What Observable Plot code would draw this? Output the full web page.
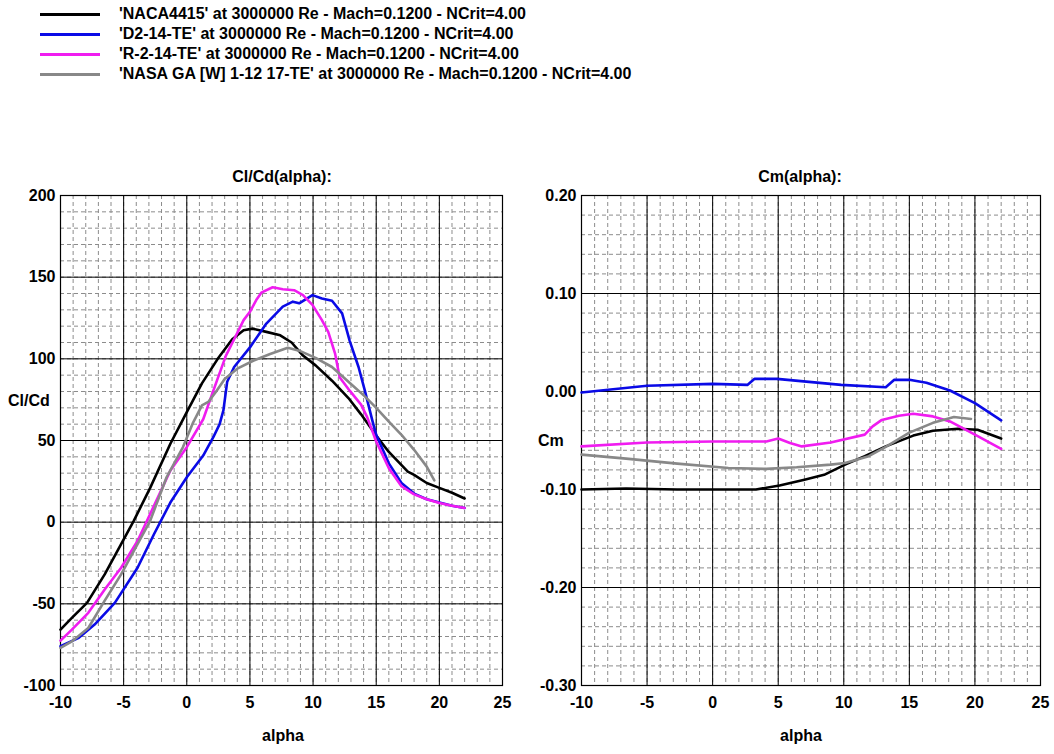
<!DOCTYPE html>
<html>
<head>
<meta charset="utf-8">
<script src="https://cdn.jsdelivr.net/npm/d3@7"></script>
<script src="https://cdn.jsdelivr.net/npm/@observablehq/plot@0.6"></script>
<style>
  html, body { margin: 0; padding: 0; background: white; }
  #root { position: relative; width: 1054px; height: 754px; font-family: "Liberation Sans", Arial, sans-serif; font-weight: bold; color: #000; overflow: hidden; }
  .abs { position: absolute; white-space: nowrap; }
  .lab { font-size: 16px; line-height: 18px; }
  .legline { position: absolute; left: 40px; width: 60px; height: 3px; }
  .legtxt { position: absolute; left: 119px; font-size: 16px; line-height: 18px; white-space: nowrap; }
  .plotbox { position: absolute; top: 150px; }
</style>
</head>
<body>
<div id="root"></div>
<script>
// ---------- series labels & colours ----------
const seriesNames = [
  "'NACA4415' at 3000000 Re - Mach=0.1200 - NCrit=4.00",
  "'D2-14-TE' at 3000000 Re - Mach=0.1200 - NCrit=4.00",
  "'R-2-14-TE' at 3000000 Re - Mach=0.1200 - NCrit=4.00",
  "'NASA GA [W] 1-12 17-TE' at 3000000 Re - Mach=0.1200 - NCrit=4.00"
];
const seriesColors = ["#000000", "#0a0ae6", "#f01cf0", "#888888"];

// ---------- Cl/Cd(alpha) ----------
const naca_ClCd_alpha = [-10,-9.1,-7.9,-6.5,-5.2,-4.2,-2.9,-1.3,0,1.2,2.45,3.6,4.5,5.2,6.3,7.4,8.3,9.2,10.2,11.5,12.8,13.8,15,16,17.5,18,19,20,21,22];
const naca_ClCd       = [-65.8,-58.6,-49.4,-32,-13.5,0.8,21,48,67.4,85,100,112,117.5,118.5,116.5,114.4,110,102,96,86.6,76,66,53,43,31,29,24,21,18,14.5];

const d2_ClCd_alpha = [-10,-8.6,-7.3,-5.7,-3.9,-2.6,-1.3,0,1.3,2.1,2.6,2.9,3.2,3.75,5,6.3,7.6,8.4,8.9,9.95,10.7,11.5,12.3,12.9,13.6,14.1,14.7,15,16,17,18,19,20,21,22];
const d2_ClCd       = [-76,-71,-62.7,-49.4,-27.9,-7.4,12,27.5,40.8,52,60,68.4,86,95,107,121.6,132,135,134,139,137,135.6,127.8,111,95,80.5,62,53.5,36,24,17.5,14,12,10,8.7];

const r2_ClCd_alpha = [-10,-9.1,-7.8,-6.5,-5.2,-3.9,-2.6,-1.3,0,1.3,2.4,3.1,3.75,4.5,5,5.5,5.9,6.8,7.6,8.5,9.2,9.95,10.7,11.2,11.75,12.1,12.9,13.8,14.3,15,16,17,18,19,20,21,22];
const r2_ClCd       = [-72.5,-65.8,-55.5,-41.2,-27.9,-11.5,10,31.6,45.9,63,87,102,112,123.7,128.8,136,140.5,143.8,142.6,142,139,133,123.7,116.5,103,88.7,80.5,72,64,49.4,33,22,17,14,11.8,10,8.7];

const ga_ClCd_alpha = [-10,-9.1,-7.8,-6.5,-5.2,-3.9,-2.9,-1.6,-0.3,0.5,1.2,1.7,2.3,3.0,4.0,5.3,6.6,8.0,8.9,10.2,11.5,13.0,14.1,15,16,17,18,19,19.6];
const ga_ClCd       = [-77,-73,-64.8,-48,-32,-13.5,0.8,27.5,46,61,71.5,73.6,79.7,87.6,94,99,103,106.8,105,100.6,95,84.6,77,70,61.6,53.5,44.3,34,25.6];

// ---------- Cm(alpha) ----------
const naca_Cm_alpha = [-10,-6.6,-2.7,3.3,5.1,7.0,8.5,10.1,11.6,13.2,15.3,16.8,18.7,20.2,22];
const naca_Cm       = [-0.100,-0.099,-0.100,-0.100,-0.096,-0.090,-0.085,-0.0746,-0.066,-0.056,-0.045,-0.040,-0.038,-0.039,-0.048];

const d2_Cm_alpha = [-10,-5,0,2.67,3.2,4.9,9.8,13.2,13.85,15,16.3,18.1,20,22];
const d2_Cm       = [-0.001,0.0058,0.0078,0.0068,0.0129,0.0129,0.0068,0.0044,0.0119,0.012,0.009,0.001,-0.0119,-0.0295];

const r2_Cm_alpha = [-10,-5,0,4.1,5,5.9,6.8,9.0,11.6,12.2,12.9,14.2,15.3,16.8,18.1,20,22];
const r2_Cm       = [-0.056,-0.052,-0.051,-0.051,-0.048,-0.0525,-0.056,-0.052,-0.044,-0.0356,-0.029,-0.0247,-0.0227,-0.0254,-0.0305,-0.044,-0.0586];

const ga_Cm_alpha = [-10,-6.6,-2.7,1.2,4.1,6.4,9.0,10.1,11.9,13.2,15,16.8,18.4,19.7];
const ga_Cm       = [-0.0644,-0.0685,-0.0736,-0.078,-0.079,-0.0773,-0.0746,-0.073,-0.066,-0.0566,-0.042,-0.032,-0.026,-0.028];

// ---------- axes ----------
const xMajor = [-10,-5,0,5,10,15,20,25];
const xMinor = d3.range(-10, 25.01, 1);
const clcdMajor = [-100,-50,0,50,100,150,200];
const clcdMinor = d3.range(-100, 200.01, 10);
const cmMajor = [-0.30,-0.20,-0.10,0.00,0.10,0.20];
const cmMinor = d3.range(-30, 20.01, 2).map(v => v / 100);

// ---------- build tables ----------
function table(alpha, vals, i) { return alpha.map((a, k) => ({alpha: a, v: vals[k], s: i})); }
const clcdSeries = [
  table(naca_ClCd_alpha, naca_ClCd, 0),
  table(d2_ClCd_alpha, d2_ClCd, 1),
  table(r2_ClCd_alpha, r2_ClCd, 2),
  table(ga_ClCd_alpha, ga_ClCd, 3)
];
const cmSeries = [
  table(naca_Cm_alpha, naca_Cm, 0),
  table(d2_Cm_alpha, d2_Cm, 1),
  table(r2_Cm_alpha, r2_Cm, 2),
  table(ga_Cm_alpha, ga_Cm, 3)
];

const root = document.getElementById("root");

// legend
seriesNames.forEach((name, i) => {
  const y = 14 + 20 * i;
  const ln = document.createElement("div");
  ln.className = "legline";
  ln.style.top = (y - 1) + "px";
  ln.style.background = seriesColors[i];
  root.appendChild(ln);
  const tx = document.createElement("div");
  tx.className = "legtxt";
  tx.style.top = (y - 9) + "px";
  tx.textContent = name;
  root.appendChild(tx);
});

function makePlot(opts) {
  const marks = [
    Plot.ruleX(opts.xMinor, {stroke: "#8c8c8c", strokeWidth: 1, strokeDasharray: "4,3"}),
    Plot.ruleY(opts.yMinor, {stroke: "#8c8c8c", strokeWidth: 1, strokeDasharray: "4,3"}),
    Plot.ruleX(opts.xMajor, {stroke: "#000", strokeWidth: 1}),
    Plot.ruleY(opts.yMajor, {stroke: "#000", strokeWidth: 1}),
    Plot.frame({stroke: "#000", strokeWidth: 1.2}),
    Plot.axisX({ticks: opts.xMajor, tickSize: 0, tickPadding: 11, label: null, tickFormat: d => String(d), fontSize: 16, fontWeight: "bold"}),
    Plot.axisY({ticks: opts.yMajor, tickSize: 0, tickPadding: 5, label: null, tickFormat: opts.yFormat, fontSize: 16, fontWeight: "bold"})
  ];
  opts.series.forEach((data, i) => {
    marks.push(Plot.line(data, {x: "alpha", y: "v", stroke: seriesColors[i], strokeWidth: 2.6, strokeLinejoin: "round", strokeLinecap: "round"}));
  });
  return Plot.plot({
    width: opts.width, height: 604,
    marginLeft: opts.ml, marginRight: opts.mr, marginTop: 45, marginBottom: 69,
    x: {domain: [-10, 25]},
    y: {domain: opts.yDomain},
    style: {fontFamily: '"Liberation Sans", Arial, sans-serif', fontSize: "16px", fontWeight: "bold", color: "#000", background: "transparent", overflow: "visible"},
    marks
  });
}

const left = makePlot({
  width: 520, ml: 60, mr: 18,
  xMajor, xMinor, yMajor: clcdMajor, yMinor: clcdMinor,
  yDomain: [-100, 200], yFormat: d => String(d), series: clcdSeries
});
const leftBox = document.createElement("div");
leftBox.className = "plotbox";
leftBox.style.left = "0px";
leftBox.appendChild(left);
root.appendChild(leftBox);

const right = makePlot({
  width: 534, ml: 61, mr: 14,
  xMajor, xMinor, yMajor: cmMajor, yMinor: cmMinor,
  yDomain: [-0.30, 0.20], yFormat: d => d.toFixed(2), series: cmSeries
});
const rightBox = document.createElement("div");
rightBox.className = "plotbox";
rightBox.style.left = "520px";
rightBox.appendChild(right);
root.appendChild(rightBox);

// titles & axis labels
function label(text, cx, cy, anchor) {
  const el = document.createElement("div");
  el.className = "abs lab";
  el.textContent = text;
  el.style.top = (cy - 9) + "px";
  el.style.left = cx + "px";
  if (anchor !== "start") el.style.transform = "translateX(-50%)";
  root.appendChild(el);
}
label("Cl/Cd(alpha):", 282, 177);
label("Cm(alpha):", 800, 177);
label("alpha", 283, 736);
label("alpha", 801, 736);
label("Cl/Cd", 8, 401, "start");
label("Cm", 538, 441, "start");
</script>
</body>
</html>
